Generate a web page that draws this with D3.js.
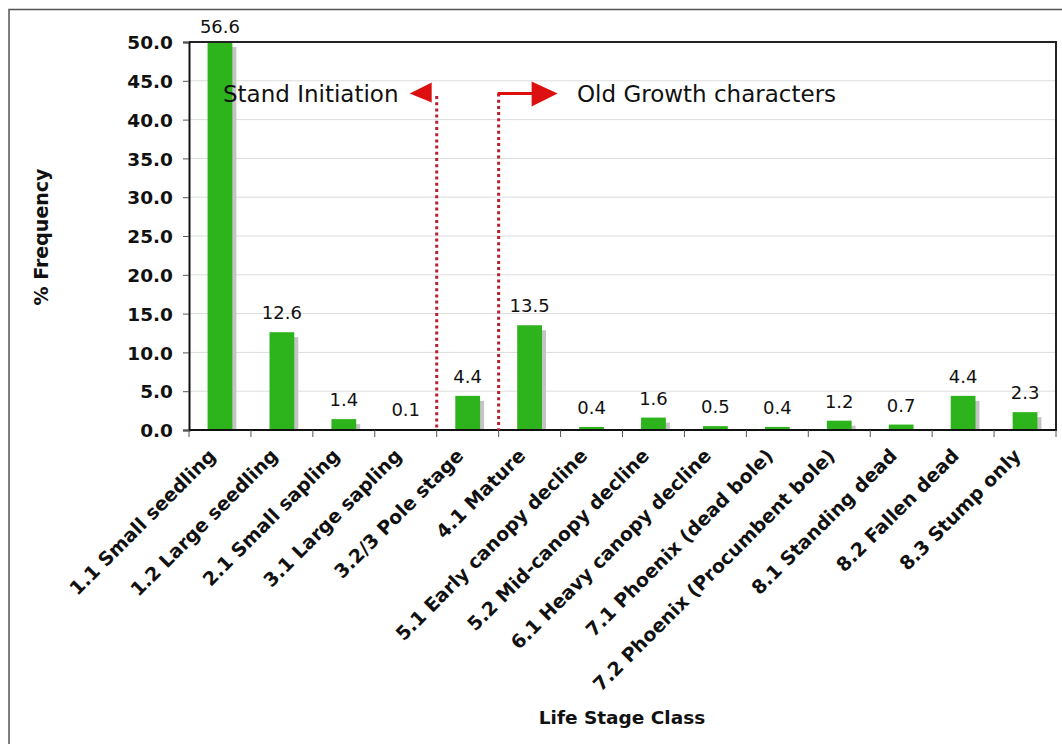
<!DOCTYPE html>
<html>
<head>
<meta charset="utf-8">
<script src="https://cdn.jsdelivr.net/npm/d3@7"></script>
<style>
  html, body { margin: 0; padding: 0; background: #fff; }
  svg { display: block; }
  text { font-family: "DejaVu Sans", Verdana, sans-serif; fill: #111; }
</style>
</head>
<body>
<svg id="chart" width="1062" height="744"></svg>
<script>
// Life stage classes and their share of all stems (%)
const categories = [
  "1.1 Small seedling", "1.2 Large seedling", "2.1 Small sapling", "3.1 Large sapling",
  "3.2/3 Pole stage", "4.1 Mature", "5.1 Early canopy decline", "5.2 Mid-canopy decline",
  "6.1 Heavy canopy decline", "7.1 Phoenix (dead bole)", "7.2 Phoenix (Procumbent bole)",
  "8.1 Standing dead", "8.2 Fallen dead", "8.3 Stump only"
];
const frequency = [56.6, 12.6, 1.4, 0.1, 4.4, 13.5, 0.4, 1.6, 0.5, 0.4, 1.2, 0.7, 4.4, 2.3];
const yTicks = [0, 5, 10, 15, 20, 25, 30, 35, 40, 45, 50];
const phaseLabels = ["Stand Initiation", "Old Growth characters"];
// The two phase dividers sit at the edges of the pole-stage class
const dividerCategories = ["3.2/3 Pole stage", "4.1 Mature"];

const svg = d3.select("#chart");
const m = { left: 189, right: 1056, top: 42, bottom: 430 };

const x = d3.scaleBand().domain(categories).range([m.left, m.right]).padding(0);
const y = d3.scaleLinear().domain([0, 50]).range([m.bottom, m.top]);

// outer frame (open on right/bottom)
svg.append("path")
  .attr("d", `M9,744 L9,9.5 L1062,9.5`)
  .attr("fill", "none").attr("stroke", "#555").attr("stroke-width", 1.5);

// gridlines
svg.append("g").selectAll("line").data(yTicks.slice(1)).join("line")
  .attr("x1", m.left).attr("x2", m.right)
  .attr("y1", d => y(d)).attr("y2", d => y(d))
  .attr("stroke", "#dcdcdc").attr("stroke-width", 1);

// clip bars to the plot area
svg.append("clipPath").attr("id", "plot")
  .append("rect").attr("x", m.left).attr("y", m.top)
  .attr("width", m.right - m.left).attr("height", m.bottom - m.top);

const bw = x.bandwidth() * 0.4;
const bars = svg.append("g").attr("clip-path", "url(#plot)");
const barTop = v => Math.max(y(v), m.top);

// drop shadows
bars.selectAll("rect.shadow").data(frequency).join("rect")
  .attr("class", "shadow")
  .attr("x", (d, i) => x(categories[i]) + (x.bandwidth() - bw) / 2 + 4)
  .attr("y", d => barTop(d) + 5)
  .attr("width", bw)
  .attr("height", d => Math.max(0, y(0) - barTop(d) - 5))
  .attr("fill", "#c4c4c4");

bars.selectAll("rect.bar").data(frequency).join("rect")
  .attr("class", "bar")
  .attr("x", (d, i) => x(categories[i]) + (x.bandwidth() - bw) / 2)
  .attr("y", d => barTop(d))
  .attr("width", bw)
  .attr("height", d => y(0) - barTop(d))
  .attr("fill", "#2db31c");

// value labels
svg.append("g").selectAll("text").data(frequency).join("text")
  .attr("x", (d, i) => x(categories[i]) + x.bandwidth() / 2)
  .attr("y", d => Math.max(y(d) - 13, 33))
  .attr("text-anchor", "middle")
  .attr("font-size", 18)
  .text(d => d.toFixed(1));

// plot frame: top and right edges
svg.append("path")
  .attr("d", `M${m.left},${m.top} L${m.right},${m.top} L${m.right},${m.bottom}`)
  .attr("fill", "none").attr("stroke", "#222").attr("stroke-width", 2);

// y axis
const yAxis = svg.append("g").attr("transform", `translate(${m.left},0)`)
  .call(d3.axisLeft(y).tickValues(yTicks).tickFormat(d3.format(".1f")).tickSize(6).tickPadding(10));
yAxis.select(".domain").attr("stroke", "#111").attr("stroke-width", 2);
yAxis.selectAll(".tick line").attr("stroke", "#555");
yAxis.selectAll(".tick text")
  .attr("font-family", "'DejaVu Sans', sans-serif")
  .attr("font-size", 18.5).attr("font-weight", "bold").attr("fill", "#111")
  .attr("dy", "0.36em");

// x axis: ticks at band boundaries
const xAxisG = svg.append("g").attr("transform", `translate(0,${m.bottom})`);
xAxisG.append("line").attr("x1", m.left).attr("x2", m.right + 1)
  .attr("stroke", "#111").attr("stroke-width", 2);
const bounds = categories.map(c => x(c)).concat([m.right]);
xAxisG.selectAll("line.tick").data(bounds).join("line")
  .attr("class", "tick")
  .attr("x1", d => d).attr("x2", d => d).attr("y1", 0).attr("y2", 7)
  .attr("stroke", "#555");

// rotated category labels
svg.append("g").selectAll("text").data(categories).join("text")
  .attr("transform", d => `translate(${x(d) + x.bandwidth() / 2 - 3},457) rotate(-45)`)
  .attr("text-anchor", "end")
  .attr("font-size", 19).attr("font-weight", "bold")
  .text(d => d);

// axis titles
svg.append("text")
  .attr("x", 622).attr("y", 724)
  .attr("text-anchor", "middle")
  .attr("font-size", 18.5).attr("font-weight", "bold")
  .text("Life Stage Class");

svg.append("text")
  .attr("transform", "translate(48,237) rotate(-90)")
  .attr("text-anchor", "middle")
  .attr("font-size", 19).attr("font-weight", "bold")
  .text("% Frequency");

// phase dividers and arrows
const xLeftDiv = x(dividerCategories[0]);
const xRightDiv = x(dividerCategories[1]);
const red = "#b8202e";
const arrowRed = "#dd1010";
const ay = 93.5;

svg.append("line")
  .attr("x1", xLeftDiv).attr("x2", xLeftDiv).attr("y1", 96).attr("y2", m.bottom)
  .attr("stroke", red).attr("stroke-width", 3).attr("stroke-dasharray", "3,3.2");
svg.append("line")
  .attr("x1", xRightDiv).attr("x2", xRightDiv).attr("y1", ay).attr("y2", m.bottom)
  .attr("stroke", red).attr("stroke-width", 3).attr("stroke-dasharray", "3,3.2");

// left-pointing arrowhead
svg.append("path")
  .attr("d", `M${xLeftDiv - 27},${ay} L${xLeftDiv - 5},${ay - 11} L${xLeftDiv - 5},${ay + 9} Z`)
  .attr("fill", arrowRed);

// right-pointing arrow with shaft
svg.append("line")
  .attr("x1", xRightDiv - 1).attr("x2", xRightDiv + 36).attr("y1", ay).attr("y2", ay)
  .attr("stroke", arrowRed).attr("stroke-width", 3);
svg.append("path")
  .attr("d", `M${xRightDiv + 33},${ay - 12} L${xRightDiv + 59},${ay} L${xRightDiv + 33},${ay + 13} Z`)
  .attr("fill", arrowRed);

svg.append("text")
  .attr("x", 223).attr("y", 101.5)
  .attr("font-size", 23)
  .text(phaseLabels[0]);
svg.append("text")
  .attr("x", 577).attr("y", 101.5)
  .attr("font-size", 23)
  .text(phaseLabels[1]);
</script>
</body>
</html>
